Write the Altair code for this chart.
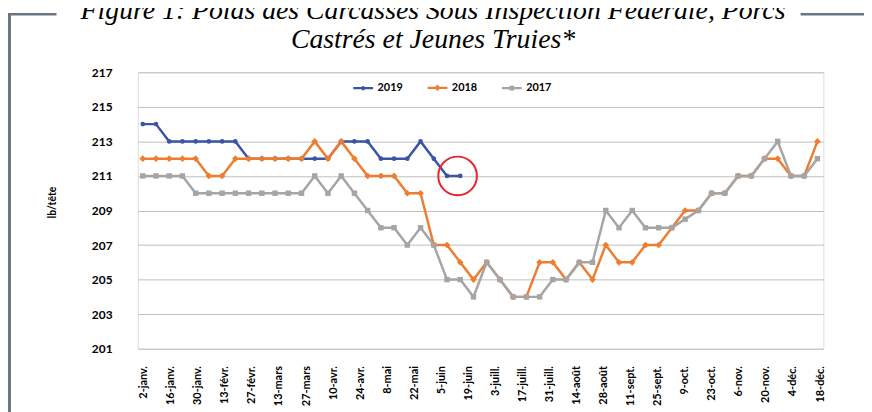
import altair as alt
import pandas as pd

# ---------------- data ----------------
tick_labels = ["2-janv.", "16-janv.", "30-janv.", "13-févr.", "27-févr.", "13-mars",
               "27-mars", "10-avr.", "24-avr.", "8-mai", "22-mai", "5-juin", "19-juin",
               "3-juill.", "17-juill.", "31-juill.", "14-août", "28-août", "11-sept.",
               "25-sept.", "9-oct.", "23-oct.", "6-nov.", "20-nov.", "4-déc.", "18-déc."]

years = ["2019", "2018", "2017"]

v2019 = [214, 214, 213, 213, 213, 213, 213, 213, 212, 212, 212, 212, 212, 212, 212,
         213, 213, 213, 212, 212, 212, 213, 212, 211, 211]
v2018 = [212, 212, 212, 212, 212, 211, 211, 212, 212, 212, 212, 212, 212, 213, 212,
         213, 212, 211, 211, 211, 210, 210, 207, 207, 206, 205, 206, 205, 204, 204,
         206, 206, 205, 206, 205, 207, 206, 206, 207, 207, 208, 209, 209, 210, 210,
         211, 211, 212, 212, 211, 211, 213]
v2017 = [211, 211, 211, 211, 210, 210, 210, 210, 210, 210, 210, 210, 210, 211, 210,
         211, 210, 209, 208, 208, 207, 208, 207, 205, 205, 204, 206, 205, 204, 204,
         204, 205, 205, 206, 206, 209, 208, 209, 208, 208, 208, 208.5, 209, 210, 210,
         211, 211, 212, 213, 211, 211, 212]

y_ticks = [201, 203, 205, 207, 209, 211, 213, 215, 217]

highlight = {"week": [23.8], "value": [211]}

title_lines = ["Figure 1: Poids des Carcasses Sous Inspection Fédérale, Porcs",
               "Castrés et Jeunes Truies*"]

# ---------------- table ----------------
rows = []
for yr, vals in zip(years, [v2019, v2018, v2017]):
    for i, v in enumerate(vals):
        rows.append({"week": i, "value": v, "year": yr})
df = pd.DataFrame(rows)

colors = ["#3A55A4", "#ED7D31", "#A5A5A5"]
FONT = "Lato"

# axis label positions (labels drift slightly relative to weekly points, as in the source)
tick_pos = [(1 + 27.3 * k) / 13.35 for k in range(len(tick_labels))]
label_arr = "[" + ",".join("'" + t + "'" for t in tick_labels) + "]"
label_expr = label_arr + "[round((datum.value * 13.35 - 1) / 27.3)]"

x_enc = alt.X("week:Q",
              scale=alt.Scale(domain=[-0.375, 51.45], nice=False, zero=False),
              axis=alt.Axis(values=tick_pos, tickCount=60, labelExpr=label_expr,
                            labelAngle=-90, labelAlign="right", labelBaseline="middle",
                            grid=False, ticks=False, tickSize=0, domain=False,
                            labelPadding=17, labelFont=FONT, labelFontWeight="bold",
                            labelFontSize=11, labelColor="#000000", labelOverlap=False,
                            labelBound=False, title=None))
y_enc = alt.Y("value:Q",
              scale=alt.Scale(domain=[201, 217], nice=False, zero=False),
              axis=alt.Axis(values=y_ticks, tickCount=20, grid=True,
                            gridColor="#BFBFBF", gridWidth=1, domain=False,
                            ticks=False, tickSize=0, labelPadding=26, labelFont=FONT,
                            labelFontWeight="bold", labelFontSize=12,
                            labelOverlap=False, labelBound=False,
                            labelColor="#000000", title="lb/tête", titleFont=FONT,
                            titleFontWeight="bold", titleFontSize=10.5,
                            titleColor="#000000", titleX=-86, titleY=131,
                            titleAngle=-90, titleAlign="center",
                            titleBaseline="middle"))

base = alt.Chart(df)

lines = base.mark_line(strokeWidth=2.5).encode(
    x=x_enc, y=y_enc,
    color=alt.Color("year:N", scale=alt.Scale(domain=years, range=colors), legend=None),
    detail="year:N",
)

shapes = {"2019": ("circle", 22), "2018": ("diamond", 45), "2017": ("square", 30)}
point_layers = []
for yr, col in zip(years, colors):
    shp, sz = shapes[yr]
    point_layers.append(
        base.transform_filter(alt.datum.year == yr)
        .mark_point(filled=True, shape=shp, size=sz, color=col, opacity=1)
        .encode(x="week:Q", y="value:Q")
    )

paths = [
    "M-1,0H1M0.1,0A0.1,0.1,0,1,1,-0.1,0A0.1,0.1,0,1,1,0.1,0Z",
    "M-1,0H1M0,-0.17L0.17,0L0,0.17L-0.17,0Z",
    "M-1,0H1M-0.13,-0.13H0.13V0.13H-0.13Z",
]


def make_legend():
    return alt.Legend(title=None, orient="none", legendX=216, legendY=4,
                      direction="horizontal", labelFont=FONT, labelFontWeight="bold",
                      labelFontSize=11, labelColor="#000000", symbolSize=400,
                      symbolStrokeWidth=2.2, symbolOpacity=1, columnPadding=20,
                      labelOffset=3, padding=0)


legend_layer = base.mark_point(filled=True, opacity=0, strokeWidth=2.2).encode(
    x="week:Q", y="value:Q",
    fill=alt.Fill("year:N", scale=alt.Scale(domain=years, range=colors), legend=make_legend()),
    stroke=alt.Stroke("year:N", scale=alt.Scale(domain=years, range=colors), legend=make_legend()),
    shape=alt.Shape("year:N", scale=alt.Scale(domain=years, range=paths), legend=make_legend()),
)

circle = alt.Chart(pd.DataFrame(highlight)).mark_point(
    shape="circle", size=1521, filled=False, stroke="#E8232A", strokeWidth=2, opacity=1
).encode(x="week:Q", y="value:Q")

one = pd.DataFrame({"k": [0]})
FRAME = "#6B7683"
frame_left = alt.Chart(one).mark_rule(color=FRAME, strokeWidth=3).encode(
    x=alt.value(-129.5), y=alt.value(-58.5), y2=alt.value(345))
frame_top_l = alt.Chart(one).mark_rule(color=FRAME, strokeWidth=2.5).encode(
    x=alt.value(-131), x2=alt.value(-82), y=alt.value(-58.5))
frame_top_r = alt.Chart(one).mark_rule(color=FRAME, strokeWidth=2.5).encode(
    x=alt.value(669), x2=alt.value(745), y=alt.value(-58.5))

title = alt.Chart(one).mark_text(
    text=title_lines, font="Liberation Serif", fontStyle="italic", fontSize=28,
    lineHeight=29, align="center", baseline="alphabetic", color="#000000"
).encode(x=alt.value(298), y=alt.value(-54))

chart = alt.layer(
    lines, *point_layers, legend_layer, circle,
    frame_left, frame_top_l, frame_top_r, title
).resolve_scale(
    color="independent"
).properties(
    width=692, height=279,
    autosize=alt.AutoSizeParams(type="none"),
    padding={"left": 131, "top": 63, "right": 41, "bottom": 62},
).configure_view(
    stroke=None
).configure_axis(
    labelOverlap=False
).configure(background="white")

chart.save("out.html", embed_options={"renderer": "svg", "actions": False})
